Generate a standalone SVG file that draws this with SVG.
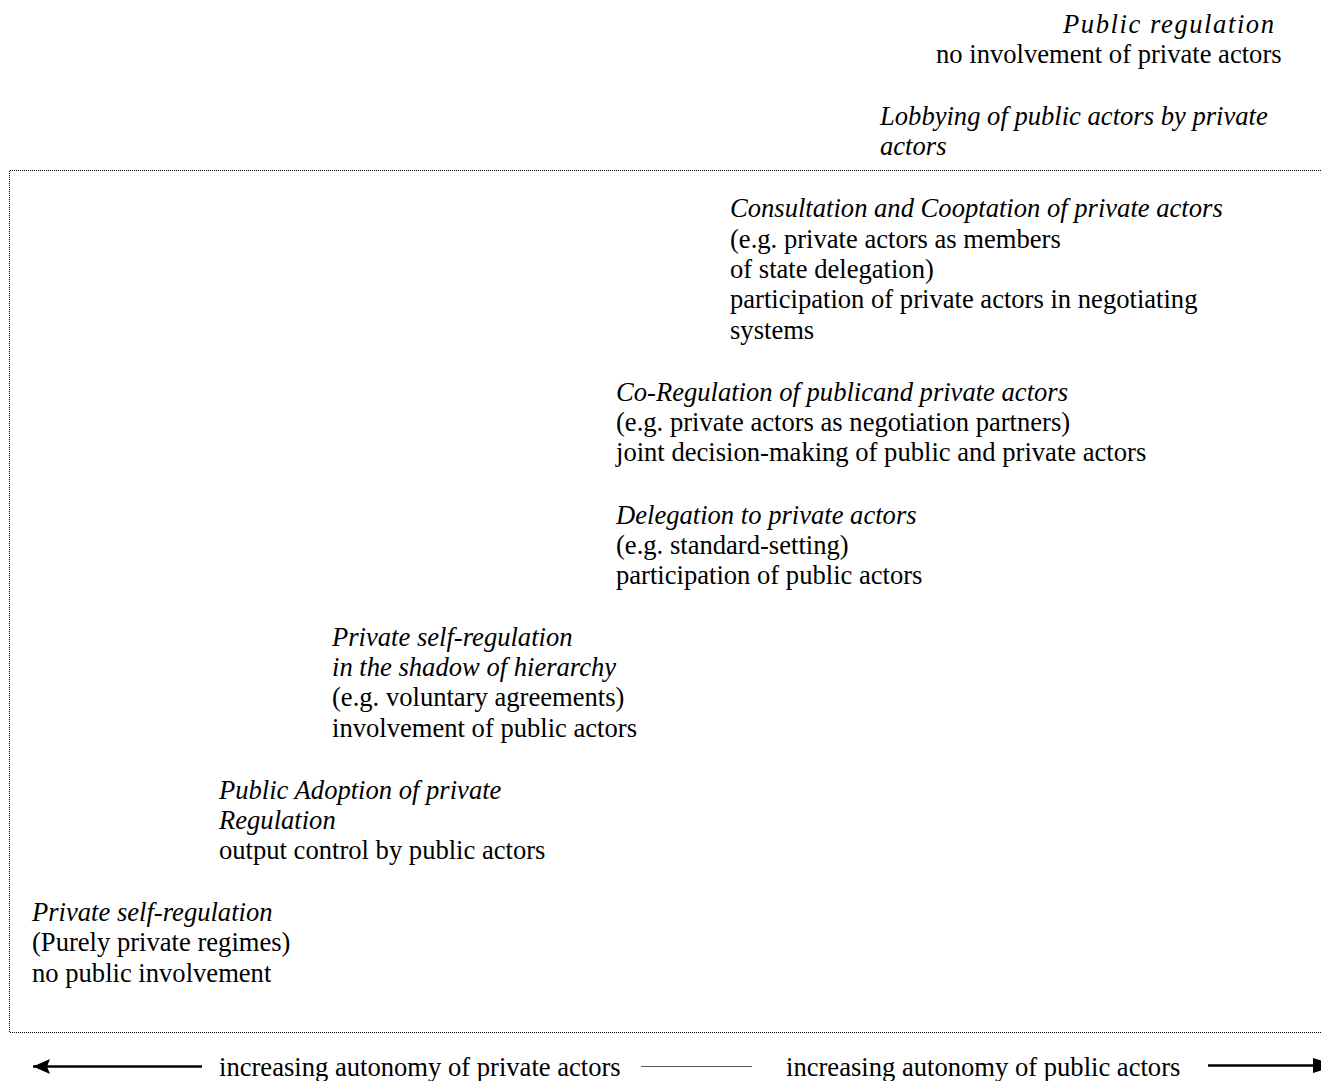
<svg xmlns="http://www.w3.org/2000/svg" width="1321" height="1081" viewBox="0 0 1321 1081">
<style>
text{font-family:"Liberation Serif","Times New Roman",serif;font-size:26.6px;fill:#000}
.i{font-style:italic}
.frame{fill:none;stroke:#000;stroke-width:1;stroke-dasharray:1 1}
.arr{stroke:#000;stroke-width:2.6;fill:none}
</style>
<defs>
<marker id="ah" viewBox="0 0 17 15" refX="17" refY="7.5" markerWidth="17" markerHeight="15" markerUnits="userSpaceOnUse" orient="auto">
<path d="M0,0 L17,7.5 L0,15 L3,7.5 z" fill="#000"/>
</marker>
</defs>
<rect width="1321" height="1081" fill="#fff"/>
<g id="frame"><path class="frame" d="M1321,170.5 H9.5 V1032.5 H1321"/></g>
<g transform="translate(0,1)">
<g id="n-public"><text x="1063" y="32" class="i" textLength="211" lengthAdjust="spacing">Public regulation</text><text x="936" y="62">no involvement of private actors</text></g>
<g id="n-lobby"><text x="880" y="124" class="i">Lobbying of public actors by private</text><text x="880" y="154" class="i">actors</text></g>
<g id="n-consult"><text x="730" y="216" class="i">Consultation and Cooptation of private actors</text><text x="730" y="247">(e.g. private actors as members</text><text x="730" y="277">of state delegation)</text><text x="730" y="307">participation of private actors in negotiating</text><text x="730" y="338">systems</text></g>
<g id="n-coreg"><text x="616" y="400" class="i">Co-Regulation of publicand private actors</text><text x="616" y="430">(e.g. private actors as negotiation partners)</text><text x="616" y="460">joint decision-making of public and private actors</text></g>
<g id="n-deleg"><text x="616" y="523" class="i">Delegation to private actors</text><text x="616" y="553">(e.g. standard-setting)</text><text x="616" y="583">participation of public actors</text></g>
<g id="n-shadow"><text x="332" y="645" class="i">Private self-regulation</text><text x="332" y="675" class="i">in the shadow of hierarchy</text><text x="332" y="705">(e.g. voluntary agreements)</text><text x="332" y="736">involvement of public actors</text></g>
<g id="n-adopt"><text x="219" y="798" class="i">Public Adoption of private</text><text x="219" y="828" class="i">Regulation</text><text x="219" y="858">output control by public actors</text></g>
<g id="n-private"><text x="32" y="920" class="i">Private self-regulation</text><text x="32" y="950">(Purely private regimes)</text><text x="32" y="981">no public involvement</text></g>
<g id="axis-labels"><text x="219" y="1075">increasing autonomy of private actors</text><text x="786" y="1075">increasing autonomy of public actors</text></g>
</g>
<g id="connectors">
<line class="arr" x1="202" y1="1066.5" x2="33" y2="1066.5" marker-end="url(#ah)"/>
<line x1="641" y1="1066.5" x2="752" y2="1066.5" stroke="#555" stroke-width="1"/>
<line class="arr" x1="1208" y1="1065.5" x2="1316" y2="1065.5"/>
<path d="M1313,1058 L1336,1065.5 L1313,1073 z" fill="#000"/>
</g>
</svg>
